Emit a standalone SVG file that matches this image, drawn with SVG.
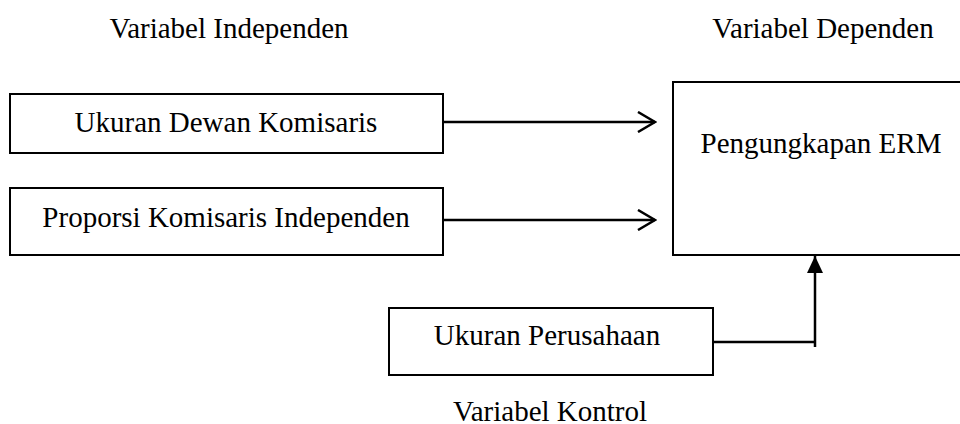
<svg xmlns="http://www.w3.org/2000/svg" width="960" height="424" viewBox="0 0 960 424">
<style>
text{font-family:"Liberation Serif","Times New Roman",serif;font-size:29px;fill:#000;text-anchor:middle}
.box{fill:#fff;stroke:#000;stroke-width:2}
.ln{fill:none;stroke:#000;stroke-width:2.5}
</style>
<defs>
<marker id="open" markerWidth="20" markerHeight="22" refX="18" refY="11" orient="auto" markerUnits="userSpaceOnUse">
<path d="M1,1 L18,11 L1,21" fill="none" stroke="#000" stroke-width="2.5"/>
</marker>
<marker id="fill" markerWidth="20" markerHeight="20" refX="17" refY="8" orient="auto" markerUnits="userSpaceOnUse">
<path d="M0,0 L17,8 L0,16 Z" fill="#000"/>
</marker>
</defs>
<rect width="960" height="424" fill="#fff"/>
<text x="229" y="38">Variabel Independen</text>
<text x="823" y="38">Variabel Dependen</text>
<text x="550" y="421">Variabel Kontrol</text>
<g id="n1"><rect class="box" x="10" y="94" width="433" height="59"/><text x="226" y="132">Ukuran Dewan Komisaris</text></g>
<g id="n2"><rect class="box" x="10" y="188" width="433" height="67"/><text x="226" y="227">Proporsi Komisaris Independen</text></g>
<g id="n3"><rect class="box" x="673" y="82" width="295" height="173"/><text x="821" y="153">Pengungkapan ERM</text></g>
<g id="n4"><rect class="box" x="389" y="308" width="324" height="67"/><text x="547" y="345">Ukuran Perusahaan</text></g>
<g id="connectors">
<line class="ln" x1="443" y1="122" x2="655" y2="122" marker-end="url(#open)"/>
<line class="ln" x1="443" y1="220" x2="655" y2="220" marker-end="url(#open)"/>
<polyline class="ln" points="713,342 815,342"/>
<line class="ln" x1="815" y1="347" x2="815" y2="256" marker-end="url(#fill)"/>
</g>
</svg>
